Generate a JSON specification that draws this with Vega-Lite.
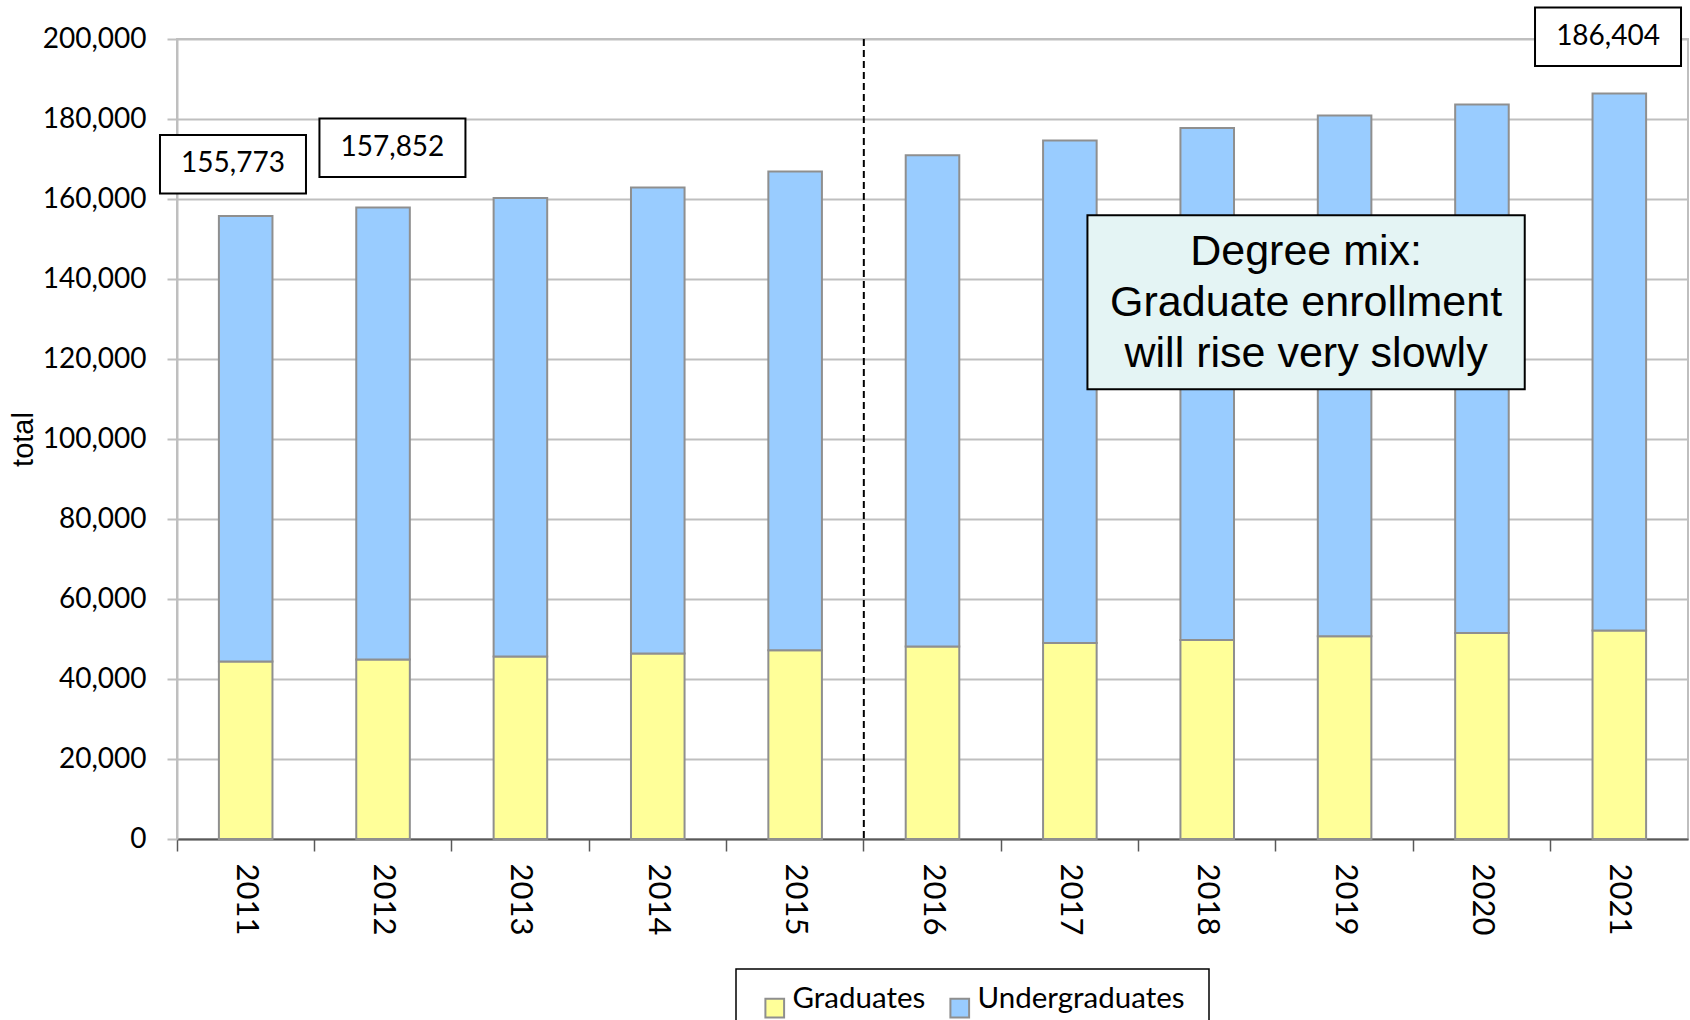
{
  "$schema": "https://vega.github.io/schema/vega-lite/v6.json",
  "width": 1511,
  "height": 800,
  "autosize": {"type": "none"},
  "padding": {"left": 177, "top": 39, "right": 2, "bottom": 181},
  "background": "white",
  "config": {"view": {"stroke": "#BFBFBF", "strokeWidth": 2}},
  "datasets": {
    "enrollment": [
      {"year": "2011", "level": "Graduates", "students": 44350},
      {"year": "2011", "level": "Undergraduates", "students": 111423},
      {"year": "2012", "level": "Graduates", "students": 44850},
      {"year": "2012", "level": "Undergraduates", "students": 113002},
      {"year": "2013", "level": "Graduates", "students": 45600},
      {"year": "2013", "level": "Undergraduates", "students": 114650},
      {"year": "2014", "level": "Graduates", "students": 46350},
      {"year": "2014", "level": "Undergraduates", "students": 116500},
      {"year": "2015", "level": "Graduates", "students": 47175},
      {"year": "2015", "level": "Undergraduates", "students": 119675},
      {"year": "2016", "level": "Graduates", "students": 48100},
      {"year": "2016", "level": "Undergraduates", "students": 122825},
      {"year": "2017", "level": "Graduates", "students": 49000},
      {"year": "2017", "level": "Undergraduates", "students": 125600},
      {"year": "2018", "level": "Graduates", "students": 49750},
      {"year": "2018", "level": "Undergraduates", "students": 128000},
      {"year": "2019", "level": "Graduates", "students": 50675},
      {"year": "2019", "level": "Undergraduates", "students": 130175},
      {"year": "2020", "level": "Graduates", "students": 51500},
      {"year": "2020", "level": "Undergraduates", "students": 132100},
      {"year": "2021", "level": "Graduates", "students": 52100},
      {"year": "2021", "level": "Undergraduates", "students": 134304}
    ]
  },
  "data": {"name": "enrollment"},
  "layer": [
    {
      "mark": {"type": "bar", "stroke": "#8F8F8F", "strokeWidth": 2, "width": {"band": 0.39}},
      "encoding": {
        "x": {
          "field": "year", "type": "ordinal",
          "scale": {"paddingInner": 0, "paddingOuter": 0},
          "axis": {
            "title": null, "labelAngle": 90, "labelAlign": "left", "labelBaseline": "middle",
            "labelFont": "Lato", "labelFontSize": 31, "labelColor": "black", "labelPadding": 12,
            "tickSize": 12, "tickColor": "#595959", "tickWidth": 1.5,
            "domainColor": "#595959", "domainWidth": 2,
            "bandPosition": 0, "grid": false
          }
        },
        "y": {
          "field": "students", "type": "quantitative", "stack": "zero", "title": "total",
          "scale": {"domain": [0, 200000], "nice": false},
          "axis": {
            "titleFont": "Liberation Sans", "titleFontSize": 29, "titleFontWeight": "normal",
            "titleColor": "black", "titlePadding": 4,
            "labelFont": "Lato", "labelFontSize": 28, "labelColor": "black", "labelPadding": 21,
            "tickSize": 10, "tickColor": "#BFBFBF", "tickWidth": 2,
            "domainColor": "#BFBFBF", "domainWidth": 2,
            "gridColor": "#BFBFBF", "gridWidth": 2,
            "values": [0, 20000, 40000, 60000, 80000, 100000, 120000, 140000, 160000, 180000, 200000],
            "format": ",d", "labelOverlap": false, "labelFlush": false
          }
        },
        "color": {
          "field": "level", "type": "nominal",
          "scale": {"domain": ["Graduates", "Undergraduates"], "range": ["#FFFF99", "#99CCFF"]},
          "legend": {
            "title": null, "orient": "none", "legendX": 559, "legendY": 930, "direction": "horizontal",
            "symbolType": "square", "symbolSize": 350, "symbolStrokeColor": "#8F8F8F", "symbolStrokeWidth": 2,
            "symbolOpacity": 1,
            "labelFont": "Lato", "labelFontSize": 29.5, "labelColor": "black", "labelOffset": 3,
            "labelLimit": 500, "labelBaseline": "alphabetic",
            "columnPadding": 19, "padding": 24, "strokeColor": "black",
            "fillColor": "white", "cornerRadius": 0,
            "encode": {"legend": {"update": {"strokeWidth": {"value": 1.5}}}}
          }
        },
        "order": {"field": "level", "sort": "ascending"}
      }
    },
    {
      "data": {"values": [{}]},
      "mark": {"type": "rule", "color": "black", "strokeWidth": 2, "strokeDash": [7, 4]},
      "encoding": {"x": {"datum": "2016", "type": "ordinal", "bandPosition": 0}}
    },
    {
      "transform": [
        {"aggregate": [{"op": "sum", "field": "students", "as": "students"}], "groupby": ["year"]},
        {"filter": "datum.year === '2011'"}
      ],
      "encoding": {
        "x": {"field": "year", "type": "ordinal"},
        "y": {"field": "students", "type": "quantitative", "title": "total"}
      },
      "layer": [
        {"mark": {"type": "point", "shape": "M-1,-0.4L1,-0.4L1,0.4L-1,0.4Z", "size": 21316, "filled": true, "fill": "white", "stroke": "black", "strokeWidth": 2, "strokeJoin": "miter", "opacity": 1, "xOffset": -12.7, "yOffset": -51.6}},
        {"mark": {"type": "text", "font": "Lato", "fontSize": 28, "color": "black", "align": "center", "baseline": "middle", "xOffset": -12.7, "yOffset": -51.6}, "encoding": {"text": {"field": "students", "type": "quantitative", "format": ","}}}
      ]
    },
    {
      "transform": [
        {"aggregate": [{"op": "sum", "field": "students", "as": "students"}], "groupby": ["year"]},
        {"filter": "datum.year === '2012'"}
      ],
      "encoding": {
        "x": {"field": "year", "type": "ordinal"},
        "y": {"field": "students", "type": "quantitative", "title": "total"}
      },
      "layer": [
        {"mark": {"type": "point", "shape": "M-1,-0.4L1,-0.4L1,0.4L-1,0.4Z", "size": 21316, "filled": true, "fill": "white", "stroke": "black", "strokeWidth": 2, "strokeJoin": "miter", "opacity": 1, "xOffset": 9.4, "yOffset": -59.8}},
        {"mark": {"type": "text", "font": "Lato", "fontSize": 28, "color": "black", "align": "center", "baseline": "middle", "xOffset": 9.4, "yOffset": -59.8}, "encoding": {"text": {"field": "students", "type": "quantitative", "format": ","}}}
      ]
    },
    {
      "transform": [
        {"aggregate": [{"op": "sum", "field": "students", "as": "students"}], "groupby": ["year"]},
        {"filter": "datum.year === '2021'"}
      ],
      "encoding": {
        "x": {"field": "year", "type": "ordinal"},
        "y": {"field": "students", "type": "quantitative", "title": "total"}
      },
      "layer": [
        {"mark": {"type": "point", "shape": "M-1,-0.4L1,-0.4L1,0.4L-1,0.4Z", "size": 21316, "filled": true, "fill": "white", "stroke": "black", "strokeWidth": 2, "strokeJoin": "miter", "opacity": 1, "xOffset": -11.3, "yOffset": -56.7}},
        {"mark": {"type": "text", "font": "Lato", "fontSize": 28, "color": "black", "align": "center", "baseline": "middle", "xOffset": -11.3, "yOffset": -56.7}, "encoding": {"text": {"field": "students", "type": "quantitative", "format": ","}}}
      ]
    },
    {
      "data": {"values": [{"note": ["Degree mix:", "Graduate enrollment", "will rise very slowly"]}]},
      "encoding": {
        "x": {"datum": "2019", "type": "ordinal"},
        "y": {"datum": 134175, "type": "quantitative"}
      },
      "layer": [
        {"mark": {"type": "point", "shape": "M-1,-0.398L1,-0.398L1,0.398L-1,0.398Z", "size": 191231, "filled": true, "fill": "#E4F4F4", "stroke": "black", "strokeWidth": 2, "strokeJoin": "miter", "opacity": 1, "xOffset": -38.5}},
        {"mark": {"type": "text", "font": "Liberation Sans", "fontSize": 43, "lineHeight": 51, "color": "black", "align": "center", "baseline": "middle", "xOffset": -38.5, "yOffset": -50}, "encoding": {"text": {"field": "note"}}}
      ]
    }
  ]
}
